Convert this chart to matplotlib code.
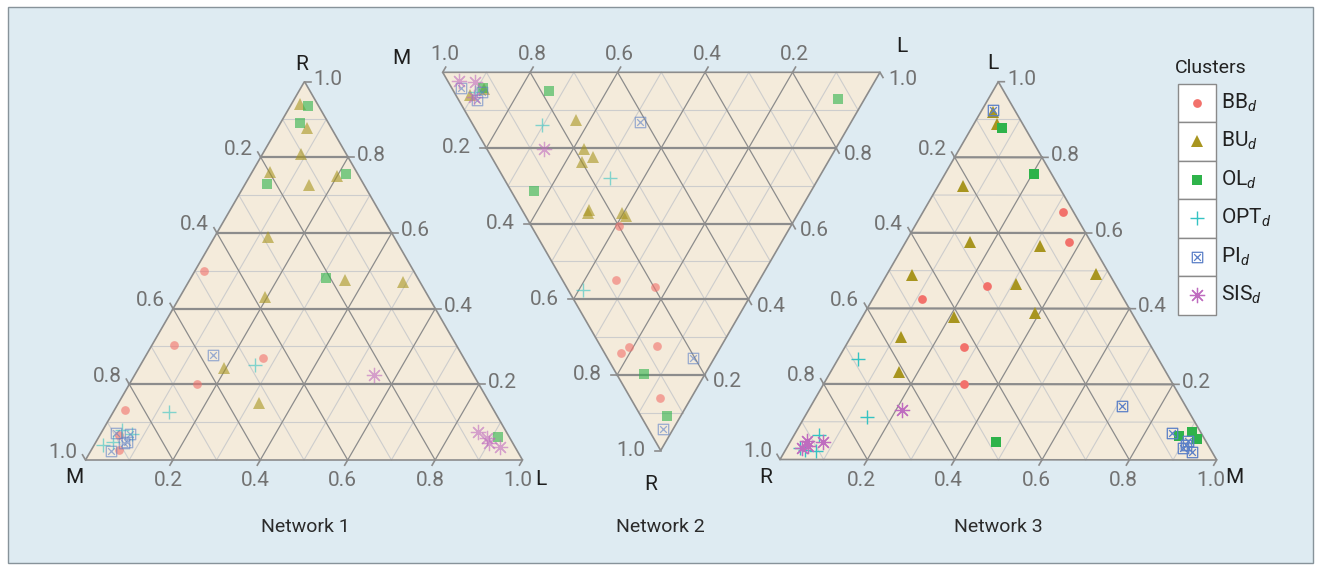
import numpy as np
import matplotlib.pyplot as plt
from matplotlib import font_manager
from matplotlib.path import Path
from matplotlib.patches import Rectangle, Polygon

installed = {f.name for f in font_manager.fontManager.ttflist}
FONT = 'Liberation Sans Narrow' if 'Liberation Sans Narrow' in installed else 'Roboto'
plt.rcParams['font.family'] = FONT
plt.rcParams['mathtext.fontset'] = 'custom'
plt.rcParams['mathtext.rm'] = FONT
plt.rcParams['mathtext.it'] = FONT + ':italic'

clusters = ['BB', 'BU', 'OL', 'OPT', 'PI', 'SIS']
colors = ['#f2716b', '#a8951f', '#2eb34a', '#35c3c3', '#5a7fc7', '#bf6cbf']
tick_values = [0.2, 0.4, 0.6, 0.8, 1.0]
titles = ['Network 1', 'Network 2', 'Network 3']

# shares per point, as (R, M, L)
net1_bb = [(0.50, 0.48, 0.02), (0.305, 0.645, 0.05), (0.27, 0.46, 0.27), (0.20, 0.645, 0.155),
           (0.133, 0.844, 0.023), (0.065, 0.892, 0.043), (0.026, 0.91, 0.064)]
net1_bu = [(0.94, 0.041, 0.019), (0.878, 0.055, 0.067), (0.808, 0.104, 0.088), (0.76, 0.198, 0.042),
           (0.727, 0.125, 0.148), (0.751, 0.049, 0.20), (0.59, 0.287, 0.123), (0.476, 0.168, 0.356),
           (0.469, 0.039, 0.492), (0.431, 0.374, 0.195), (0.244, 0.562, 0.194), (0.15, 0.528, 0.322)]
net1_ol = [(0.936, 0.024, 0.04), (0.89, 0.066, 0.044), (0.728, 0.222, 0.05), (0.756, 0.027, 0.217),
           (0.482, 0.209, 0.309), (0.062, 0.026, 0.912)]
net1_opt = [(0.251, 0.486, 0.263), (0.127, 0.746, 0.127), (0.068, 0.86, 0.072), (0.04, 0.94, 0.02),
            (0.048, 0.912, 0.04), (0.079, 0.878, 0.043)]
net1_pi = [(0.277, 0.571, 0.152), (0.072, 0.895, 0.033), (0.069, 0.864, 0.067), (0.048, 0.882, 0.07),
           (0.044, 0.891, 0.065), (0.025, 0.93, 0.045)]
net1_sis = [(0.225, 0.228, 0.547), (0.073, 0.065, 0.862), (0.057, 0.052, 0.891), (0.044, 0.054, 0.902),
            (0.034, 0.034, 0.932)]

net2_bb = [(0.406, 0.393, 0.201), (0.548, 0.33, 0.122), (0.567, 0.231, 0.202), (0.726, 0.21, 0.064),
           (0.743, 0.219, 0.038), (0.723, 0.148, 0.129), (0.86, 0.071, 0.069)]
net2_bu = [(0.045, 0.882, 0.073), (0.06, 0.908, 0.032), (0.126, 0.633, 0.241), (0.203, 0.576, 0.221),
           (0.223, 0.544, 0.233), (0.236, 0.563, 0.201), (0.364, 0.484, 0.152), (0.373, 0.48, 0.147),
           (0.371, 0.404, 0.225), (0.379, 0.39, 0.231)]
net2_ol = [(0.042, 0.886, 0.072), (0.049, 0.732, 0.219), (0.313, 0.634, 0.053), (0.798, 0.14, 0.062),
           (0.908, 0.031, 0.061), (0.071, 0.061, 0.868)]
net2_opt = [(0.051, 0.90, 0.049), (0.139, 0.703, 0.158), (0.279, 0.477, 0.244), (0.576, 0.391, 0.033)]
net2_pi = [(0.041, 0.938, 0.021), (0.073, 0.885, 0.042), (0.051, 0.885, 0.064), (0.131, 0.483, 0.386),
           (0.755, 0.05, 0.195), (0.944, 0.023, 0.033)]
net2_sis = [(0.022, 0.951, 0.027), (0.025, 0.914, 0.061), (0.066, 0.896, 0.038), (0.204, 0.666, 0.13)]

net3_bb = [(0.023, 0.321, 0.656), (0.05, 0.374, 0.576), (0.296, 0.245, 0.459), (0.462, 0.112, 0.426),
           (0.429, 0.274, 0.297), (0.477, 0.322, 0.201)]
net3_bu = [(0.053, 0.027, 0.92), (0.058, 0.054, 0.888), (0.22, 0.056, 0.724), (0.278, 0.147, 0.575),
           (0.121, 0.313, 0.566), (0.453, 0.059, 0.488), (0.03, 0.479, 0.491), (0.226, 0.309, 0.465),
           (0.222, 0.389, 0.389), (0.412, 0.211, 0.377), (0.56, 0.115, 0.325), (0.611, 0.156, 0.233)]
net3_ol = [(0.052, 0.071, 0.877), (0.04, 0.205, 0.755), (0.482, 0.47, 0.048), (0.055, 0.882, 0.063),
           (0.021, 0.906, 0.073), (0.017, 0.928, 0.055)]
net3_opt = [(0.688, 0.046, 0.266), (0.744, 0.144, 0.112), (0.878, 0.056, 0.066), (0.939, 0.03, 0.031),
            (0.907, 0.071, 0.022), (0.931, 0.045, 0.024)]
net3_pi = [(0.049, 0.026, 0.925), (0.146, 0.711, 0.143), (0.066, 0.863, 0.071), (0.04, 0.91, 0.05),
           (0.062, 0.907, 0.031), (0.046, 0.932, 0.022), (0.05, 0.91, 0.04)]
net3_sis = [(0.655, 0.213, 0.132), (0.915, 0.037, 0.048), (0.935, 0.034, 0.031), (0.879, 0.074, 0.047),
            (0.917, 0.046, 0.037)]

net_data = [
    [net1_bb, net1_bu, net1_ol, net1_opt, net1_pi, net1_sis],
    [net2_bb, net2_bu, net2_ol, net2_opt, net2_pi, net2_sis],
    [net3_bb, net3_bu, net3_ol, net3_opt, net3_pi, net3_sis],
]

# square with a cross inside
k = 0.32
PI_MARKER = Path([(-.5, -.5), (.5, -.5), (.5, .5), (-.5, .5), (-.5, -.5), (-k, -k), (k, k), (-k, k), (k, -k)],
                 [Path.MOVETO, Path.LINETO, Path.LINETO, Path.LINETO, Path.CLOSEPOLY,
                  Path.MOVETO, Path.LINETO, Path.MOVETO, Path.LINETO])

marker_style = [
    dict(marker='o', ms=6.3, mew=0),
    dict(marker='^', ms=8.2, mew=0),
    dict(marker='s', ms=6.5, mew=0),
    dict(marker='+', ms=10, mew=1.0),
    dict(marker=PI_MARKER, ms=7.5, mew=0.9, mfc='none'),
    dict(marker=(8, 2, 0), ms=11, mew=0.9),
]

# panel geometry in pixels (y down)
panels = [
    dict(V={'R': (304.5, 81.5), 'M': (85.5, 460.0), 'L': (522.5, 460.0)},
         edge={'M': 'R', 'R': 'L', 'L': 'M'},
         lab={'M': ('right', 'center', -8, -8), 'R': ('left', 'center', 9, -2), 'L': ('center', 'top', -5, 11)},
         corner={'R': (-2.5, -17.5), 'M': (-11.5, 17), 'L': (18.5, 19)},
         alpha=0.6, title=(305, 527)),
    dict(V={'M': (442.7, 72.3), 'L': (880.0, 72.3), 'R': (660.7, 450.5)},
         edge={'M': 'L', 'R': 'M', 'L': 'R'},
         lab={'M': ('center', 'bottom', 2, -8), 'R': ('right', 'center', -15, 0), 'L': ('left', 'center', 8, 7)},
         corner={'M': (-41.7, -14.3), 'L': (22, -26.3), 'R': (-9.7, 33.5)},
         alpha=0.6, title=(660, 527)),
    dict(V={'L': (998.3, 81.7), 'R': (780.0, 459.5), 'M': (1216.7, 460.0)},
         edge={'M': 'R', 'R': 'L', 'L': 'M'},
         lab={'R': ('right', 'center', -8, -8), 'L': ('left', 'center', 9, -2), 'M': ('center', 'top', -6, 11)},
         corner={'L': (-5, -18), 'R': (-14, 17.5), 'M': (17.3, 17)},
         alpha=1.0, title=(998, 527)),
]

GRID_DARK = '#8c8c8c'
GRID_LIGHT = '#cdcdcd'
TICK_COLOR = '#727272'


def to_xy(points, V):
    p = np.asarray(points, dtype=float)
    p = p / p.sum(axis=1, keepdims=True)
    vr, vm, vl = (np.array(V[c]) for c in 'RML')
    xy = p[:, [0]] * vr + p[:, [1]] * vm + p[:, [2]] * vl
    return xy[:, 0], xy[:, 1]


def draw_panel(ax, panel, data, title):
    V = {c: np.array(v) for c, v in panel['V'].items()}
    ax.add_patch(Polygon([V['R'], V['M'], V['L']], closed=True, fc='#f4ebdb', ec='none', zorder=1))

    # grid lines at every tenth, darker every fifth
    for c in 'RML':
        a, b = [o for o in 'RML' if o != c]
        for i in range(1, 10):
            v = i / 10
            P = v * V[c] + (1 - v) * V[a]
            Q = v * V[c] + (1 - v) * V[b]
            if i % 2:
                ax.plot([P[0], Q[0]], [P[1], Q[1]], color=GRID_LIGHT, lw=0.8, zorder=2)
            else:
                horiz = abs(P[1] - Q[1]) < 0.5
                ax.plot([P[0], Q[0]], [P[1], Q[1]], color=GRID_DARK, lw=1.6 if horiz else 0.9, zorder=3)

    ax.add_patch(Polygon([V['R'], V['M'], V['L']], closed=True, fc='none', ec=GRID_DARK, lw=1.2, zorder=3))

    # ticks and tick labels along each edge
    for c in 'RML':
        e = panel['edge'][c]
        o = [x for x in 'RML' if x not in (c, e)][0]
        d = V[e] - V[o]
        d = d / np.hypot(*d)
        ha, va, dx, dy = panel['lab'][c]
        for v in tick_values:
            P = v * V[c] + (1 - v) * V[e]
            T = P + 6 * d
            ax.plot([P[0], T[0]], [P[1], T[1]], color=GRID_DARK, lw=1.2, zorder=3)
            ax.text(P[0] + dx, P[1] + dy, f'{v:.1f}', ha=ha, va=va, fontsize=15, color=TICK_COLOR)
        cx, cy = panel['corner'][c]
        ax.text(V[c][0] + cx, V[c][1] + cy, c, ha='center', va='center', fontsize=15, color='#1e1e1e')

    for pts, color, style in zip(data, colors, marker_style):
        x, y = to_xy(pts, panel['V'])
        ax.plot(x, y, ls='none', color=color, alpha=panel['alpha'], zorder=5, **style)

    tx, ty = panel['title']
    ax.text(tx, ty, title, ha='center', va='center', fontsize=14, color='#2b2b2b')


fig = plt.figure(figsize=(13.2, 5.69), dpi=100)
ax = fig.add_axes([0, 0, 1, 1])
ax.set_xlim(0, 1320)
ax.set_ylim(569, 0)
ax.axis('off')

ax.add_patch(Rectangle((7.5, 6.5), 1305, 556, fc='#deebf2', ec='#87939a', lw=1.0, zorder=0))

for panel, data, title in zip(panels, net_data, titles):
    draw_panel(ax, panel, data, title)

# legend: one boxed row per cluster
ax.text(1211, 68, 'Clusters', ha='center', va='center', fontsize=14, color='#222222')
row_h = 38.5
for i, (name, color, style) in enumerate(zip(clusters, colors, marker_style)):
    top = 83.5 + i * row_h
    ax.add_patch(Rectangle((1178, top), 38, row_h, fc='white', ec='#8a8a8a', lw=1.0, zorder=4))
    ax.plot([1197], [top + row_h / 2], ls='none', color=color, zorder=5, **style)
    ax.text(1221, top + row_h / 2, name + r'$_{d}$', ha='left', va='center', fontsize=15, color='#222222')

fig.savefig('out.png', dpi=100)
